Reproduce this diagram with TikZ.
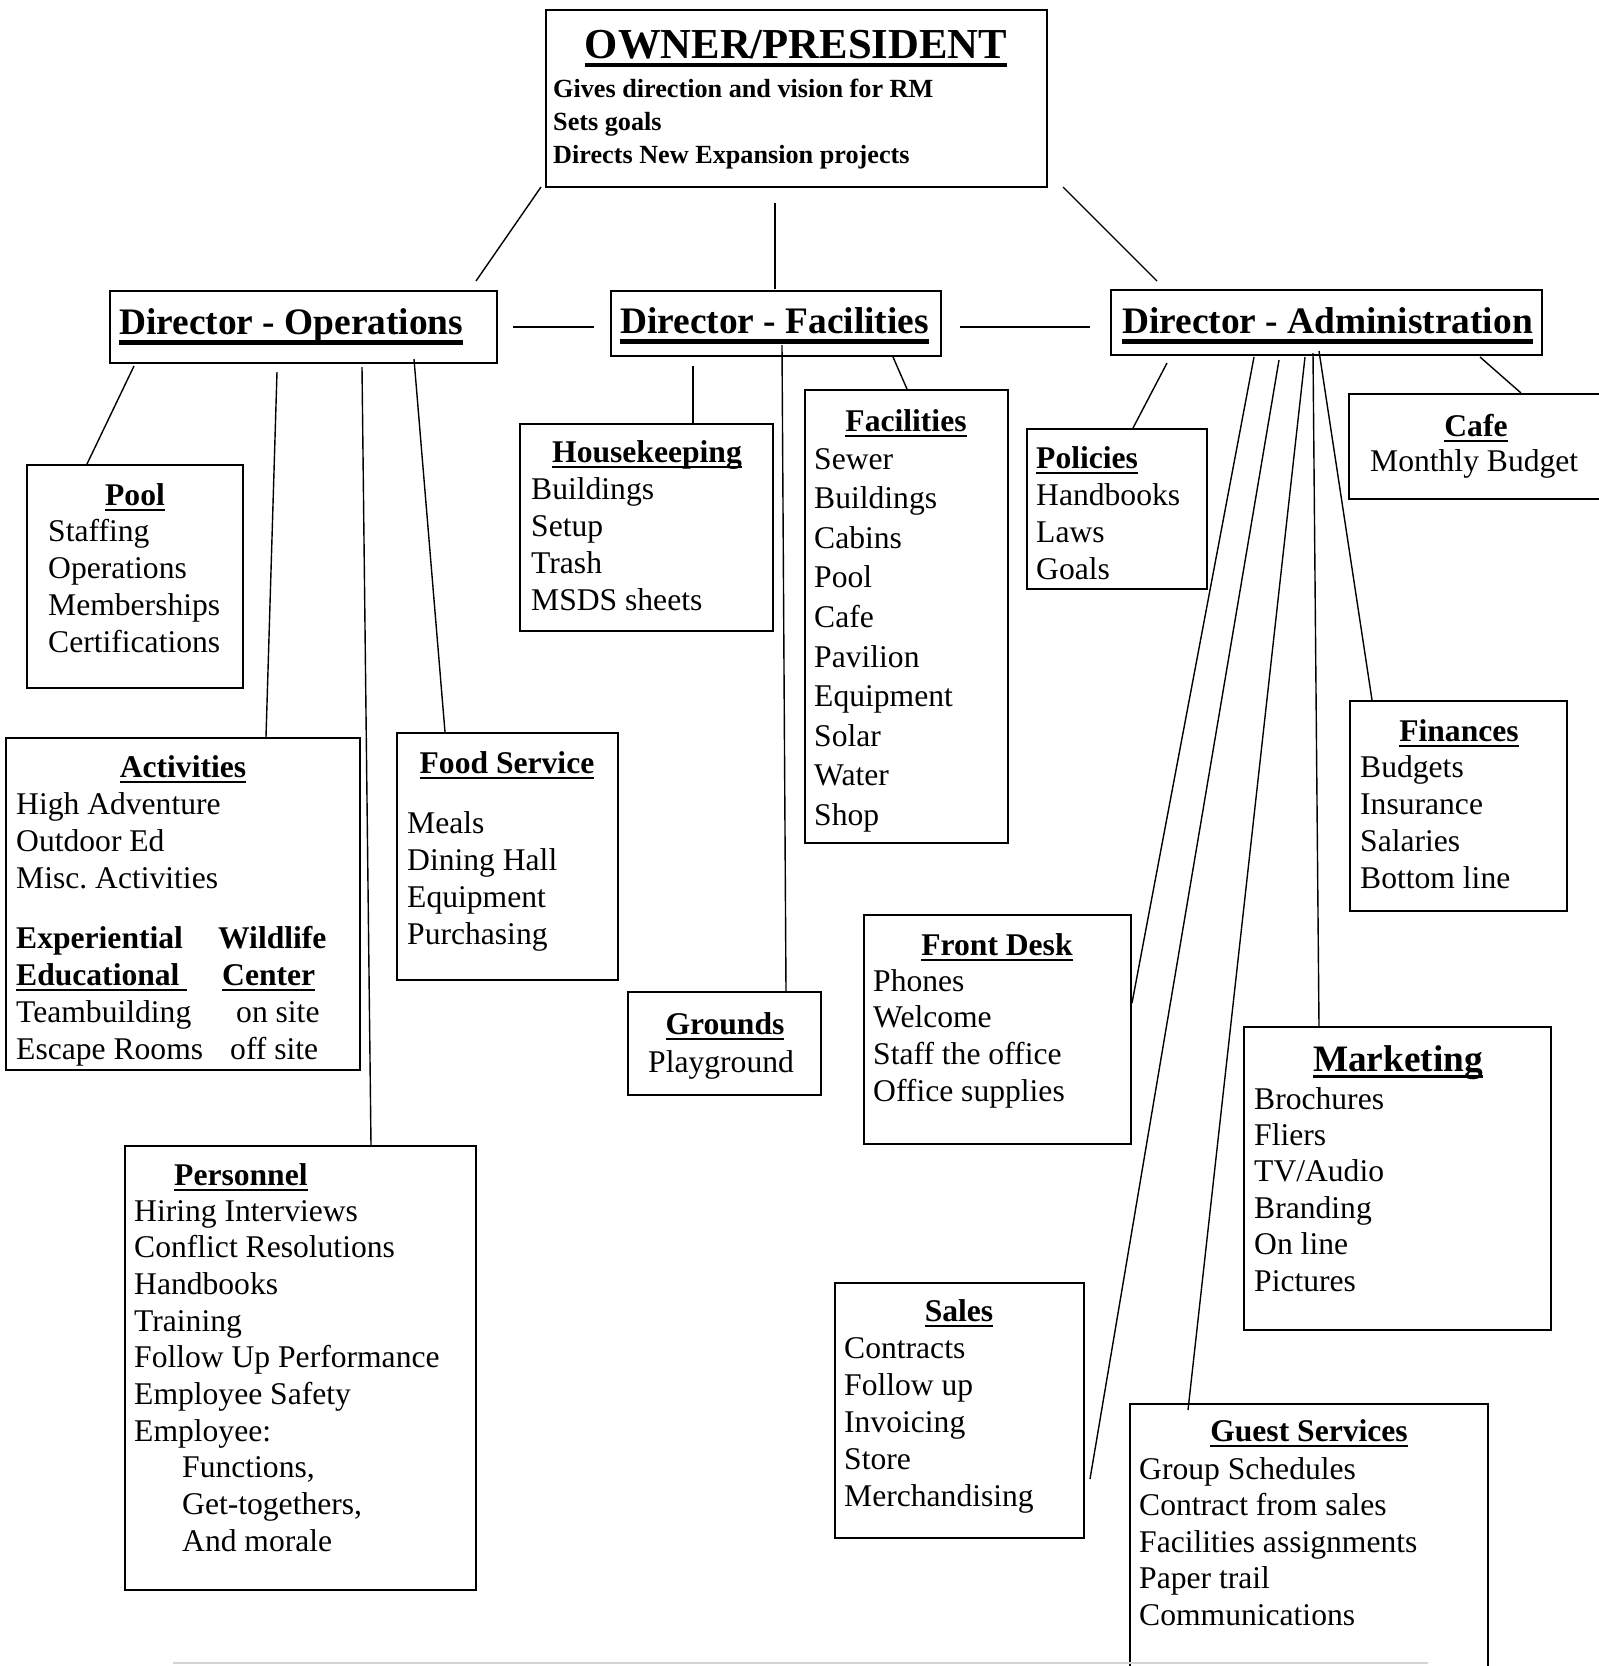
\documentclass[tikz,border=0pt]{standalone}
\usepackage{fontspec}
\setmainfont{Liberation Serif}
\usetikzlibrary{fit,calc}
\frenchspacing
\newcommand\ulx[1]{\setbox0\hbox{#1}\rlap{\rule[-0.2em]{\wd0}{0.085em}}\box0}
\newcommand\ulxd[1]{\setbox0\hbox{#1}\rlap{\rule[-0.29em]{\wd0}{0.13em}}\box0}
\newcommand\lst[1]{\begin{tabular}[t]{@{}l@{}}#1\end{tabular}}
\newcommand\bodyf{\fontsize{31.6}{37}\selectfont}
\tikzset{
  box/.style={draw, line width=2pt, inner sep=0pt},
  txt/.style={inner sep=0pt, anchor=base west, font=\bodyf},
  ttl/.style={inner sep=0pt, anchor=base, font=\bfseries\bodyf},
  dirt/.style={inner sep=0pt, anchor=base west, font=\bfseries\fontsize{37.4}{40}\selectfont},
  conn/.style={line width=1.4pt},
}
\begin{document}
\begin{tikzpicture}[x=1pt,y=-1pt]
\useasboundingbox (0,0) rectangle (1599,1666);
\fill[white] (0,0) rectangle (1599,1666);
\clip (0,0) rectangle (1599,1666);

% ---------- boxes ----------
\node[box, fit={(546,10) (1047,187)}] (owner) {};
\node[box, fit={(110,291) (497,363)}] (ops) {};
\node[box, fit={(611,291) (941,356)}] (fac) {};
\node[box, fit={(1111,290) (1542,355)}] (adm) {};
\node[box, fit={(27,465) (243,688)}] (pool) {};
\node[box, fit={(6,738) (360,1070)}] (act) {};
\node[box, fit={(397,733) (618,980)}] (food) {};
\node[box, fit={(520,424) (773,631)}] (hk) {};
\node[box, fit={(628,992) (821,1095)}] (grounds) {};
\node[box, fit={(805,390) (1008,843)}] (facil) {};
\node[box, fit={(1027,429) (1207,589)}] (pol) {};
\node[box, fit={(1349,394) (1625,499)}] (cafe) {};
\node[box, fit={(1350,701) (1567,911)}] (fin) {};
\node[box, fit={(864,915) (1131,1144)}] (fd) {};
\node[box, fit={(1244,1027) (1551,1330)}] (mkt) {};
\node[box, fit={(835,1283) (1084,1538)}] (sales) {};
\node[box, fit={(1130,1404) (1488,1700)}] (guest) {};
\node[box, fit={(125,1146) (476,1590)}] (pers) {};

% ---------- texts ----------
\node[inner sep=0pt, anchor=base, font=\bfseries\fontsize{42.7}{46}\selectfont] (owner-t) at (796,58) {\ulx{OWNER/PRESIDENT}};
\node[inner sep=0pt, anchor=base west, font=\bfseries\fontsize{26.2}{33}\selectfont] (owner-l) at (553,97)
  {\lst{Gives direction and vision for RM\\Sets goals\\Directs New Expansion projects}};

\node[dirt] (ops-t) at (119,334) {\ulxd{Director - Operations}};
\node[dirt] (fac-t) at (620,333) {\ulxd{Director - Facilities}};
\node[dirt] (adm-t) at (1122,333) {\ulxd{Director - Administration}};

\node[ttl] (pool-t) at (135,505) {\ulx{Pool}};
\node[txt] (pool-l) at (48,541) {\lst{Staffing\\Operations\\Memberships\\Certifications}};

\node[ttl] (act-t) at (183,777) {\ulx{Activities}};
\node[txt] (act-l) at (16,814) {\lst{High Adventure\\Outdoor Ed\\Misc. Activities}};
\node[txt] (act-l2) at (16,948) {\lst{\textbf{Experiential}\\\textbf{\ulx{Educational\ }}\\Teambuilding\\Escape Rooms}};
\node[txt] (act-l3) at (218,948) {\lst{\textbf{Wildlife}\\\hspace*{4pt}\textbf{\ulx{Center}}\\\hspace*{18pt}on site\\\hspace*{12pt}off site}};

\node[ttl] (food-t) at (507,773) {\ulx{Food Service}};
\node[txt] (food-l) at (407,833) {\lst{Meals\\Dining Hall\\Equipment\\Purchasing}};

\node[ttl] (hk-t) at (647,462) {\ulx{Housekeeping}};
\node[txt] (hk-l) at (531,499) {\lst{Buildings\\Setup\\Trash\\MSDS sheets}};

\node[ttl] (grounds-t) at (725,1034) {\ulx{Grounds}};
\node[txt] (grounds-l) at (648,1072) {Playground};

\node[ttl] (facil-t) at (906,431) {\ulx{Facilities}};
\node[txt, font=\fontsize{31.6}{39.6}\selectfont] (facil-l) at (814,469)
  {\lst{Sewer\\Buildings\\Cabins\\Pool\\Cafe\\Pavilion\\Equipment\\Solar\\Water\\Shop}};

\node[txt, font=\bfseries\bodyf] (pol-t) at (1036,468) {\ulx{Policies}};
\node[txt] (pol-l) at (1036,505) {\lst{Handbooks\\Laws\\Goals}};

\node[ttl] (cafe-t) at (1476,436) {\ulx{Cafe}};
\node[txt] (cafe-l) at (1370,471) {Monthly Budget};

\node[ttl] (fin-t) at (1459,741) {\ulx{Finances}};
\node[txt] (fin-l) at (1360,777) {\lst{Budgets\\Insurance\\Salaries\\Bottom line}};

\node[ttl] (fd-t) at (997,955) {\ulx{Front Desk}};
\node[txt, font=\fontsize{31.6}{36.7}\selectfont] (fd-l) at (873,991) {\lst{Phones\\Welcome\\Staff the office\\Office supplies}};

\node[ttl, font=\bfseries\fontsize{37.3}{40}\selectfont] (mkt-t) at (1398,1071) {\ulx{Marketing}};
\node[txt, font=\fontsize{31.6}{36.4}\selectfont] (mkt-l) at (1254,1109) {\lst{Brochures\\Fliers\\TV/Audio\\Branding\\On line\\Pictures}};

\node[ttl] (sales-t) at (959,1321) {\ulx{Sales}};
\node[txt] (sales-l) at (844,1358) {\lst{Contracts\\Follow up\\Invoicing\\Store\\Merchandising}};

\node[ttl] (guest-t) at (1309,1441) {\ulx{Guest Services}};
\node[txt, font=\fontsize{31.6}{36.5}\selectfont] (guest-l) at (1139,1479) {\lst{Group Schedules\\Contract from sales\\Facilities assignments\\Paper trail\\Communications}};

\node[txt, font=\bfseries\bodyf] (pers-t) at (174,1185) {\ulx{Personnel}};
\node[txt, font=\fontsize{31.6}{36.7}\selectfont] (pers-l) at (134,1221) {\lst{Hiring Interviews\\Conflict Resolutions\\Handbooks\\Training\\Follow Up Performance\\Employee Safety\\Employee:\\\hspace*{48pt}Functions,\\\hspace*{48pt}Get-togethers,\\\hspace*{48pt}And morale}};

% ---------- connector end points ----------
\coordinate (o1) at (541,187);  \coordinate (o1e) at (476,281);
\coordinate (o2) at (775,203);  \coordinate (o2e) at (775,289);
\coordinate (o3) at (1063,187); \coordinate (o3e) at (1157,281);
\coordinate (h1) at (513,327);  \coordinate (h1e) at (594,327);
\coordinate (h2) at (960,327);  \coordinate (h2e) at (1090,327);
\coordinate (opool) at (134,366);
\coordinate (oact) at (277,372);
\coordinate (opers) at (362,367);
\coordinate (ofood) at (414,359);
\coordinate (fhk) at (693,366);
\coordinate (fgr) at (782,345);
\coordinate (ffac) at (893,357);
\coordinate (apol) at (1167,363);
\coordinate (acafe) at (1480,357);
\coordinate (afd) at (1254,357);
\coordinate (asales) at (1279,360);
\coordinate (asalesE) at (1090,1479);
\coordinate (aguest) at (1305,357);
\coordinate (amkt) at (1313,353);
\coordinate (afin) at (1319,351);

% ---------- connectors ----------
\draw[conn] (o1) -- (o1e);
\draw[conn] (o2) -- (o2e);
\draw[conn] (o3) -- (o3e);
\draw[conn] (h1) -- (h1e);
\draw[conn] (h2) -- (h2e);
\draw[conn] (opool) -- (87,0 |- pool.north);
\draw[conn] (oact) -- (266,0 |- act.north);
\draw[conn] (opers) -- (371,0 |- pers.north);
\draw[conn] (ofood) -- (445,0 |- food.north);
\draw[conn] (fhk) -- (693,0 |- hk.north);
\draw[conn] (fgr) -- (786,0 |- grounds.north);
\draw[conn] (ffac) -- (907,0 |- facil.north);
\draw[conn] (apol) -- (1133,0 |- pol.north);
\draw[conn] (acafe) -- (1521,0 |- cafe.north);
\draw[conn] (afd) -- (fd.east |- 0,1003);
\draw[conn] (asales) -- (asalesE);
\draw[conn] (aguest) -- (1188,1410);
\draw[conn] (amkt) -- (1319,0 |- mkt.north);
\draw[conn] (afin) -- (1372,0 |- fin.north);

% faint rule at the foot of the page
\draw[black!17, line width=2pt] (173,1663) -- (1428,1663);
\end{tikzpicture}
\end{document}
